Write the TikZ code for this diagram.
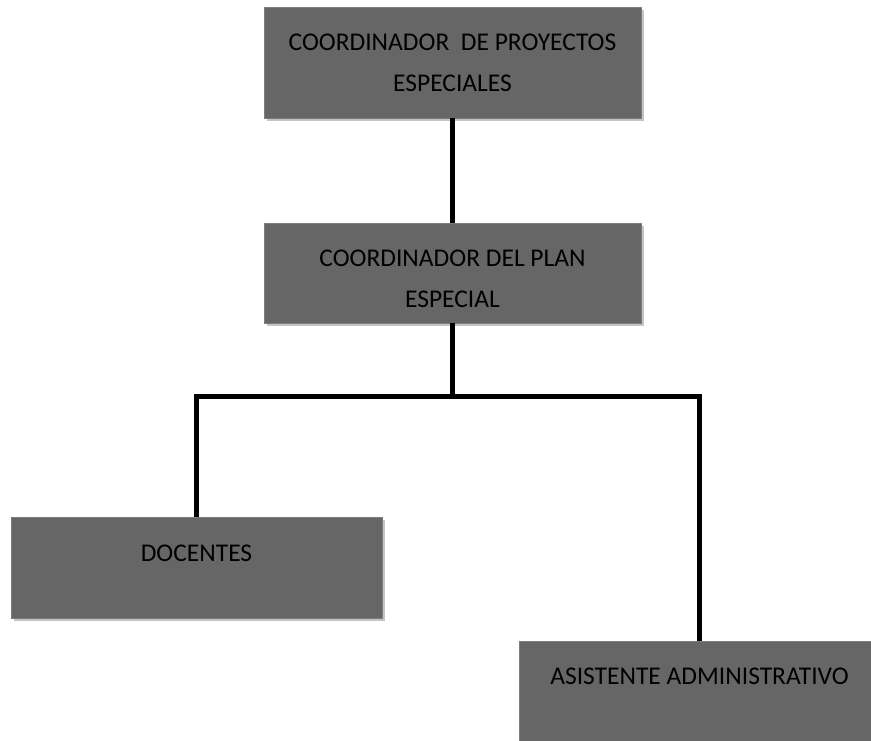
\documentclass[tikz,border=0pt]{standalone}
\usepackage{fontspec}
\setmainfont{Carlito}
\usetikzlibrary{shadows}
\definecolor{boxgray}{HTML}{666666}
\definecolor{shadowgray}{HTML}{C4C4C4}
\begin{document}
\begin{tikzpicture}[x=1pt,y=-1pt,
  orgbox/.style={draw=boxgray!85!white, line width=0.8pt, fill=boxgray, inner sep=0pt,
    drop shadow={shadow xshift=3pt, shadow yshift=-3pt, fill=shadowgray, opacity=1}},
  label/.style={font=\fontsize{25.5}{41}\selectfont, align=center, inner sep=0pt, anchor=base, text=black},
  link/.style={line width=5pt, black}]
  \useasboundingbox (0,0) rectangle (871,740);
  \clip (0,0) rectangle (871,740);

  % boxes
  \node[orgbox, minimum width=377pt, minimum height=111pt] (top) at (452.5,62.5) {};
  \node[orgbox, minimum width=377pt, minimum height=100pt] (mid) at (452.5,273) {};
  \node[orgbox, minimum width=371pt, minimum height=101pt] (doc) at (196.5,567.5) {};
  \node[orgbox, minimum width=361pt, minimum height=130pt] (asis) at (699.5,706) {};

  % captions (base anchor sits on the last line)
  \node[label] (topt) at (452.5,91) {COORDINADOR\ \ DE PROYECTOS\\ESPECIALES};
  \node[label] (midt) at (452.5,307) {COORDINADOR DEL PLAN\\ESPECIAL};
  \node[label] (doct) at (196.5,561) {DOCENTES};
  \node[label] (asist) at (699.5,684) {ASISTENTE ADMINISTRATIVO};

  % connectors
  \coordinate (bus) at (450.5,396.5);
  \draw[link] (top.south) -- (mid.north);
  \draw[link] (mid.south) -- (mid.south |- bus);
  \draw[link] (doc.north) |- (bus) -| (asis.north);
\end{tikzpicture}
\end{document}
